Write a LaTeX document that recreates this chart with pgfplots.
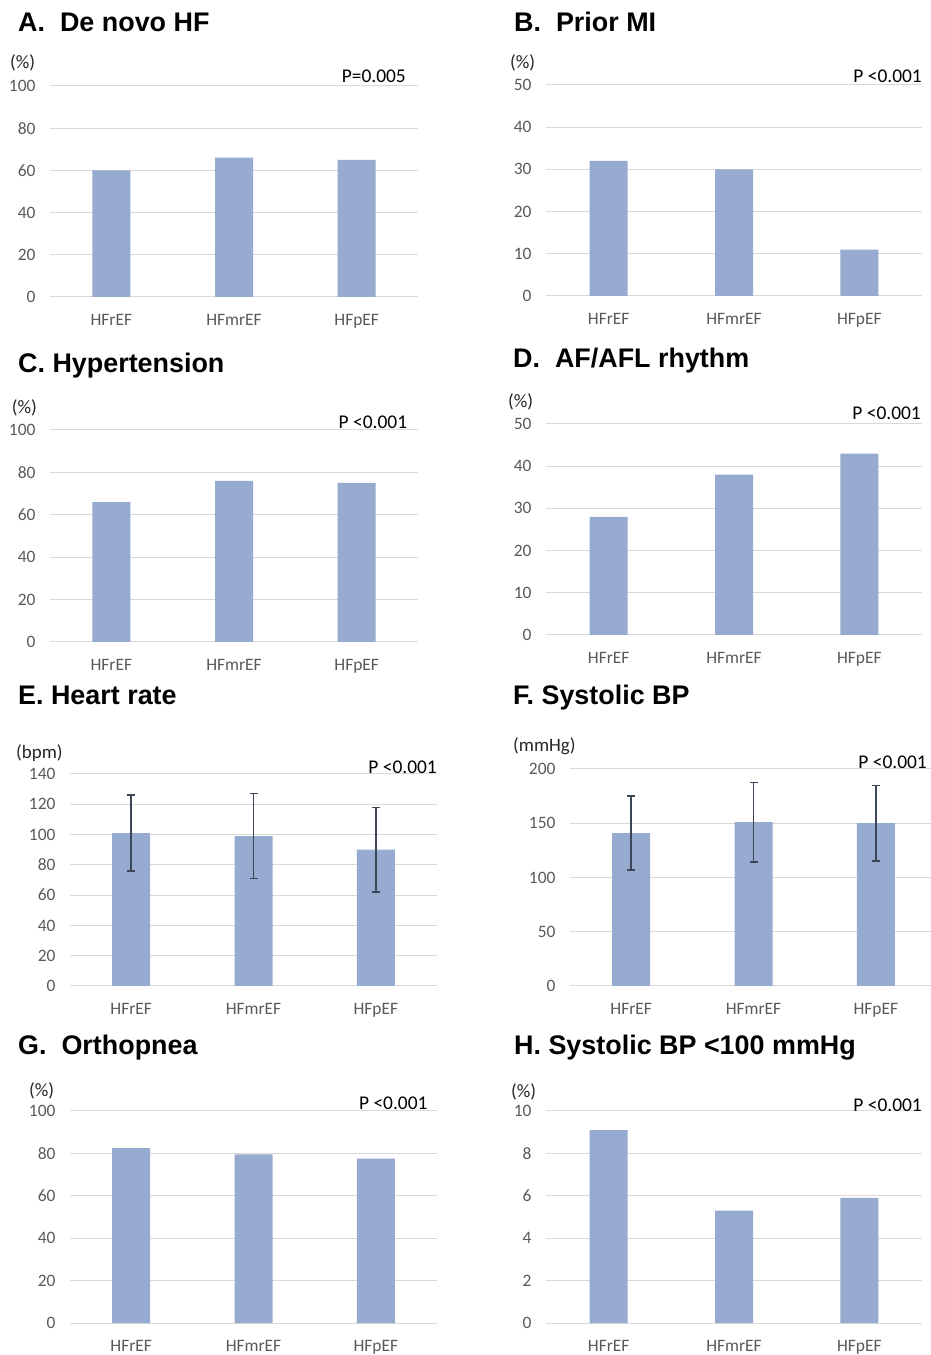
\documentclass[border=0pt]{standalone}
\usepackage{pgfplots}
\pgfplotsset{compat=1.18}
\usepackage{fontspec}
\setmainfont{Carlito}
\newfontfamily\arialb{Liberation Sans}[BoldFont={Liberation Sans Bold}]
\definecolor{barcol}{HTML}{97AACF}
\definecolor{gridcol}{HTML}{D9D9D9}
\definecolor{tickcol}{HTML}{595959}
\definecolor{errcol}{HTML}{3D4656}
\pgfplotsset{
  panel/.style={
    scale only axis, anchor=south west,
    xmin=-0.5, xmax=2.5, ymin=0,
    xtick={0,1,2}, xticklabels={HFrEF,HFmrEF,HFpEF},
    ymajorgrids, grid style={draw=gridcol, line width=1bp},
    axis line style={draw=none}, major tick style={draw=none},
    tick label style={font=\fontsize{17.5}{20}\selectfont, text=tickcol},
    /pgf/number format/assume math mode=true,
    yticklabel style={xshift=-11bp},
    xticklabel style={anchor=base, yshift=-24bp},
    ybar, bar width=38bp,
    clip=false,
  },
  bars/.style={fill=barcol, draw=none},
  errb/.style={fill=barcol, draw=none,
    error bars/.cd, y dir=both, y explicit, error mark=-,
    error bar style={draw=errcol, line width=1.5bp},
    error mark options={rotate=90, draw=errcol, line width=1.5bp, mark size=4bp}},
}
\newcommand{\ttl}[3]{\node[anchor=base west, inner sep=0pt, font=\arialb\bfseries\fontsize{27}{30}\selectfont] at (#1bp,#2bp) {#3};}
\newcommand{\unit}[3]{\node[anchor=base west, inner sep=0pt, text=black!85, font=\fontsize{19}{22}\selectfont] at (#1bp,#2bp) {#3};}
\newcommand{\pval}[3]{\node[anchor=base east, inner sep=0pt, font=\fontsize{19.5}{22}\selectfont, xshift=#1bp, yshift=#2bp] at (rel axis cs:1,1) {#3};}
\begin{document}
\begin{tikzpicture}
\path[use as bounding box] (0,0) rectangle (931bp,1355bp);

% A
\begin{axis}[panel, at={(50bp,1058bp)}, width=368bp, height=211bp, ymax=100, ytick={0,20,...,100}]
\addplot[bars] coordinates {(0,60) (1,66) (2,65)};
\pval{-12}{3}{P=0.005}
\end{axis}
% B
\begin{axis}[panel, at={(546bp,1059bp)}, width=376bp, height=211bp, ymax=50, ytick={0,10,...,50}]
\addplot[bars] coordinates {(0,32) (1,30) (2,11)};
\pval{0}{2.6}{P <0.001}
\end{axis}
% C
\begin{axis}[panel, at={(50bp,713bp)}, width=368bp, height=212bp, ymax=100, ytick={0,20,...,100}]
\addplot[bars] coordinates {(0,66) (1,76) (2,75)};
\pval{-10.7}{1.7}{P <0.001}
\end{axis}
% D
\begin{axis}[panel, at={(546bp,720bp)}, width=376bp, height=211bp, ymax=50, ytick={0,10,...,50}]
\addplot[bars] coordinates {(0,28) (1,38) (2,43)};
\pval{-1}{4.3}{P <0.001}
\end{axis}
% E
\begin{axis}[panel, at={(70bp,369bp)}, width=367bp, height=212bp, ymax=140, ytick={0,20,...,140}]
\addplot[errb] coordinates {(0,101) +- (0,25) (1,99) +- (0,28) (2,90) +- (0,28)};
\pval{0}{0}{P <0.001}
\end{axis}
% F
\begin{axis}[panel, at={(570bp,369bp)}, width=367bp, height=217bp, ymax=200, ytick={0,50,...,200}]
\addplot[errb] coordinates {(0,141) +- (0,34) (1,151) +- (0,36.5) (2,150) +- (0,35)};
\pval{-10}{0}{P <0.001}
\end{axis}
% G
\begin{axis}[panel, at={(70bp,32bp)}, width=367bp, height=212bp, ymax=100, ytick={0,20,...,100}]
\addplot[bars] coordinates {(0,82.5) (1,79.5) (2,77.5)};
\pval{-9.3}{1.7}{P <0.001}
\end{axis}
% H
\begin{axis}[panel, at={(546bp,32bp)}, width=376bp, height=212bp, ymax=10, ytick={0,2,...,10}]
\addplot[bars] coordinates {(0,9.1) (1,5.3) (2,5.9)};
\pval{0}{-1}{P <0.001}
\end{axis}

\ttl{18}{1323}{A.\ \ De novo HF}
\ttl{514}{1323}{B.\ \ Prior MI}
\ttl{18}{982}{C. Hypertension}
\ttl{513}{987}{D.\ \ AF/AFL rhythm}
\ttl{18}{650}{E. Heart rate}
\ttl{513}{650}{F. Systolic BP}
\ttl{18}{300}{G.\ \ Orthopnea}
\ttl{514}{300}{H. Systolic BP <100 mmHg}

\unit{10}{1286}{(\%)}
\unit{510}{1286}{(\%)}
\unit{11.7}{941}{(\%)}
\unit{508}{947}{(\%)}
\unit{16}{596}{(bpm)}
\unit{513}{603}{(mmHg)}
\unit{29}{258}{(\%)}
\unit{511}{257}{(\%)}
\end{tikzpicture}
\end{document}
